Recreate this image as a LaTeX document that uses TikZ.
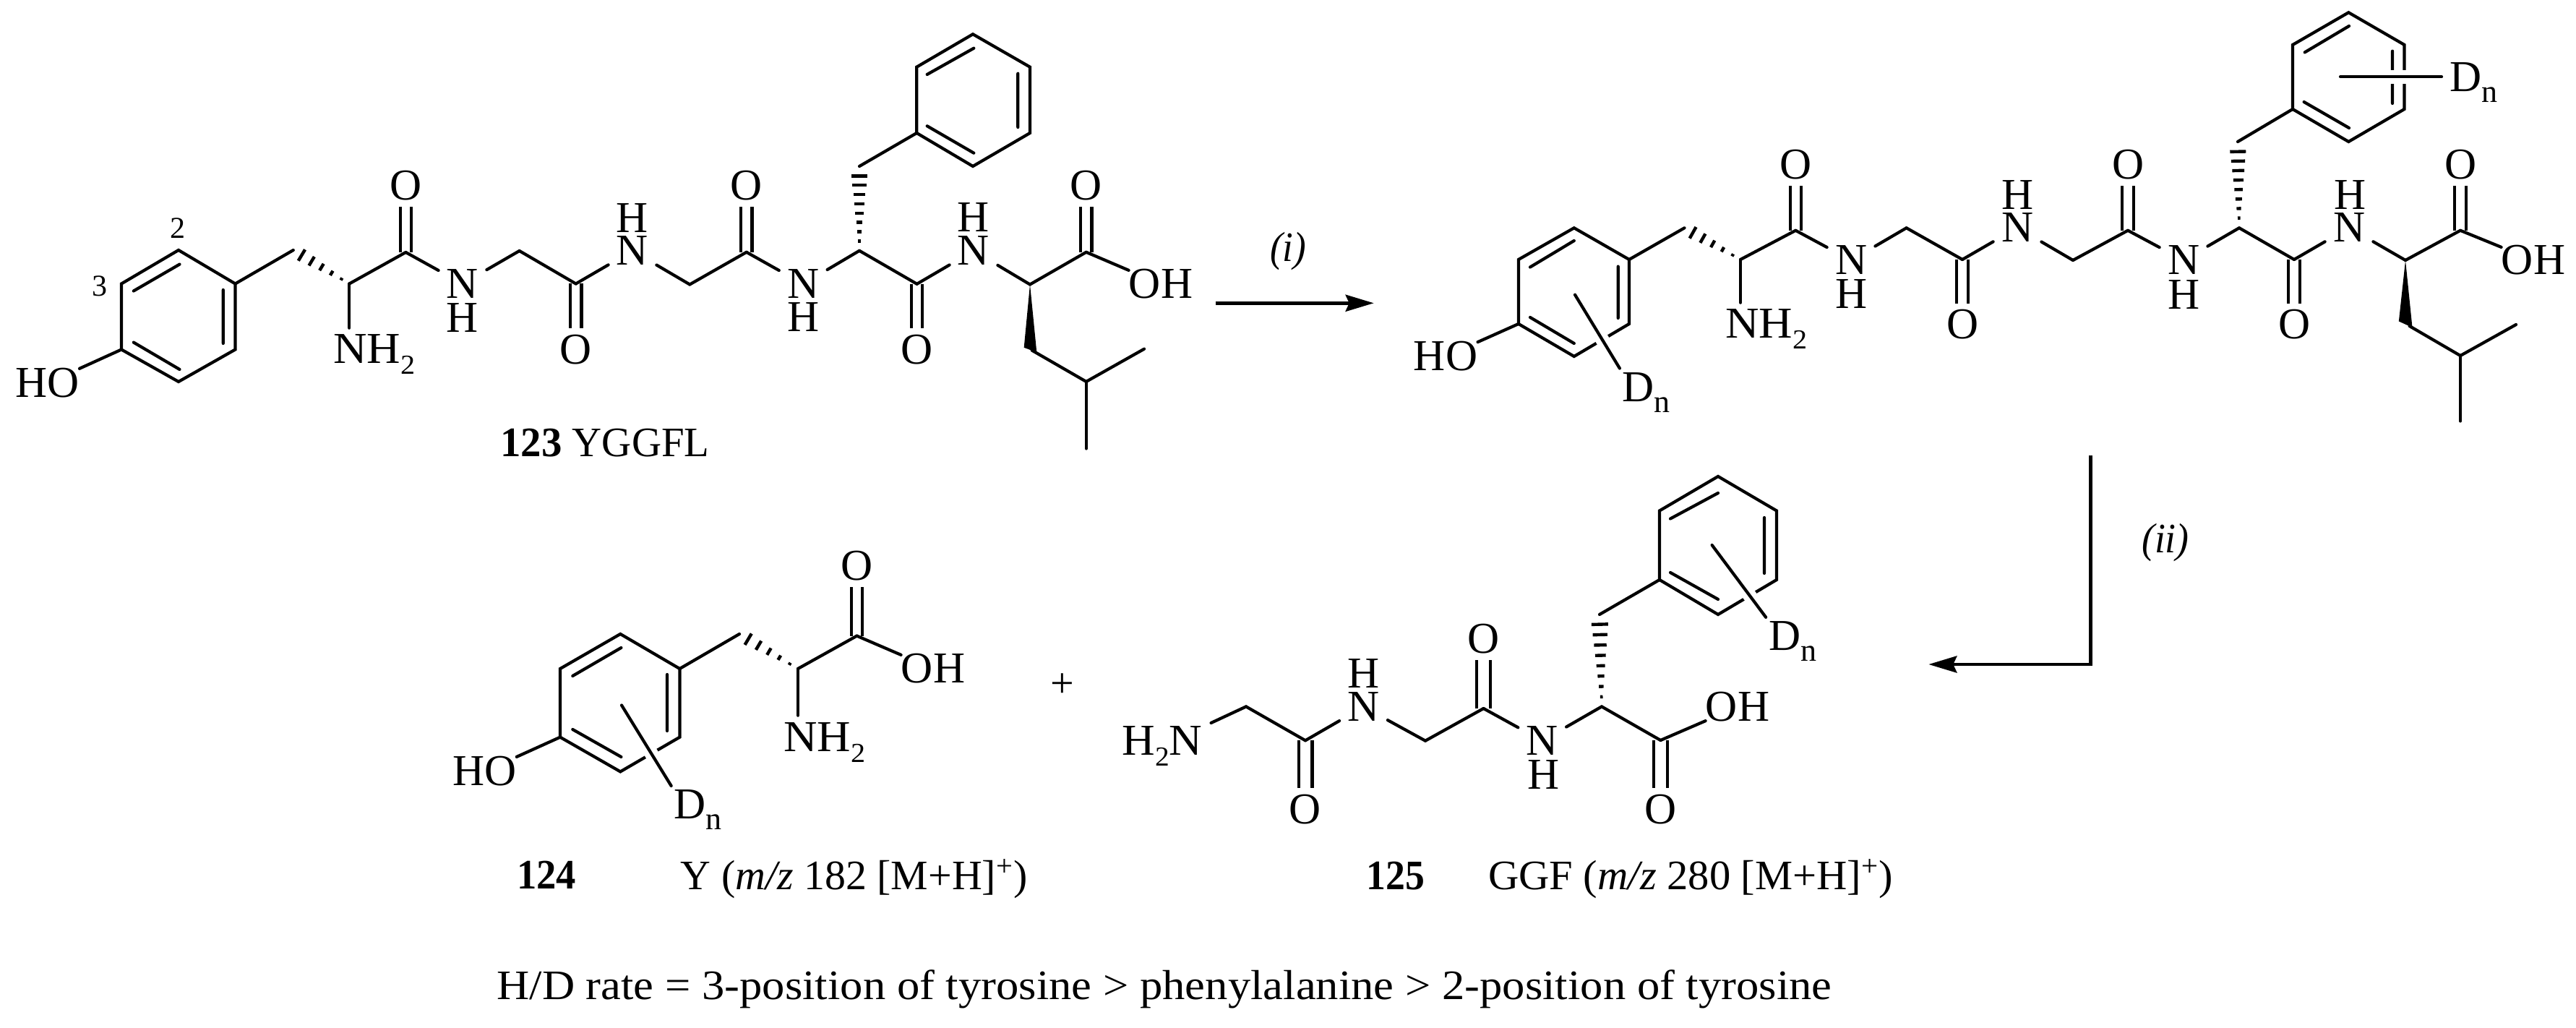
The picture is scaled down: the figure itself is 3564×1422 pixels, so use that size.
\documentclass[tikz,border=0pt]{standalone}
\usepackage{fontspec}
\usepackage{graphicx}
\setmainfont{Liberation Serif}
\usetikzlibrary{calc,arrows.meta}
\newcommand\fs[1]{\fontsize{#1}{#1}\selectfont}
\newcommand\subt[1]{\raisebox{-7.5pt}{\fs{19}#1}}
\newcommand\subn[1]{\raisebox{-7.5pt}{\fs{22}#1}}
\newcommand\atom[4]{\node[atom] (#1) at (#2,#3) {#4};}
\newcommand\natom[4]{\node[natom] (#1) at (#2,#3) {#4};}
\newcommand\hatom[4]{\node[hatom] (#1) at (#2,#3) {#4};}
\newcommand\fit[2]{\resizebox{#1pt}{\height}{#2}}
% ring: prefix, xL, xC, xR, yTop, yUp, yLow, yBot
\newcommand\benz[8]{%
  \coordinate (#1t) at (#3,#5);\coordinate (#1ur) at (#4,#6);\coordinate (#1lr) at (#4,#7);
  \coordinate (#1b) at (#3,#8);\coordinate (#1ll) at (#2,#7);\coordinate (#1ul) at (#2,#6);
  \draw[bond,line cap=butt,line join=miter] (#3,#5) -- (#4,#6) -- (#4,#7) -- (#3,#8) -- (#2,#7) -- (#2,#6) -- cycle;}
% hash bond: from, to, stripes, t0, t1, max half width (pt)
\newcommand\hashb[6]{%
  \foreach \k in {1,...,#3}{%
    \pgfmathsetmacro\hT{#4+(#5-#4)*(\k-1)/(#3-1)}%
    \pgfmathsetmacro\hW{0.9+(#6-0.9)*(\k-1)/(#3-1)}%
    \draw[hashst] ($(#1)!\hT!(#2)!\hW pt!90:(#2)$) -- ($(#1)!\hT!(#2)!\hW pt!-90:(#2)$);}}
\tikzset{
  bond/.style={line width=2.1pt,line cap=round,line join=miter,black},
  dbl/.style={bond,line cap=butt,double=white,double distance=5.6pt},
  dblw/.style={bond,line cap=butt,double=white,double distance=7.3pt},
  hashst/.style={line width=2.2pt,black},
  atom/.style={inner sep=0pt,minimum width=33pt,minimum height=29pt,font=\fs{30.5}},
  natom/.style={inner sep=0pt,minimum width=33pt,minimum height=21pt,font=\fs{30.5}},
  hatom/.style={inner sep=0pt,font=\fs{30.5}},
  lab/.style={inner sep=0pt,anchor=base west,font=\fs{30.5}},
  capt/.style={inner sep=0pt,anchor=base west,font=\fs{29}},
  over/.style={bond,preaction={draw=white,line width=9.5pt,line cap=butt}},
  rxn/.style={line width=2.4pt,black,-{Stealth[length=19.5pt,width=11.5pt,inset=2.5pt]}},
}
\begin{document}
\begin{tikzpicture}[x=0.5pt,y=-0.5pt]
\useasboundingbox (0,0) rectangle (3564,1422);
%% ---------- 123 ----------
\benz{ar}{168}{247}{325.5}{346}{392.5}{483.5}{528}
\draw[bond] (184.8,402.5) -- (248.5,365.6) (308.8,401) -- (308.8,475) (184.8,473.6) -- (248.5,511);
\benz{as}{1268.3}{1346}{1425}{47.3}{92.7}{184}{230}
\draw[bond] (1282.7,103) -- (1347.3,66.7) (1408.3,101.7) -- (1408.3,176) (1282.7,174.3) -- (1347.3,211.7);
\node[inner sep=0pt,font=\fs{21}] (alab2) at (245.7,315.7) {2};
\node[inner sep=0pt,font=\fs{21}] (alab3) at (137.8,395.5) {3};
\atom{aHO}{65.5}{530}{HO}
\node[lab] (aNH) at (461,503) {\fit{56.5}{NH\subt{2}}};
\atom{aO1}{561.4}{256.7}{O}\natom{aN1}{640}{392.5}{N}\hatom{aH1}{640}{440}{H}
\atom{aO2}{796.7}{483.5}{O}\natom{aN2}{875}{347}{N}\hatom{aH2}{875}{301.4}{H}
\atom{aO3}{1032.8}{257}{O}\natom{aN3}{1111.2}{392.8}{N}\hatom{aH3}{1111.2}{438.7}{H}
\atom{aO4}{1268.6}{483.8}{O}\natom{aN4}{1347}{347}{N}\hatom{aH4}{1347}{301}{H}
\atom{aO5}{1502.8}{257}{O}\atom{aOH}{1606}{392.8}{OH}
\coordinate (ac1) at (405.8,346);\coordinate (aca1) at (483.3,392.5);\coordinate (ac2) at (561.4,349);
\coordinate (ac3) at (718.6,347);\coordinate (ac4) at (796.7,392.5);\coordinate (ac5) at (954.3,393.5);
\coordinate (ac6) at (1032.8,348.8);\coordinate (aca2) at (1189,346.8);\coordinate (ac7) at (1189,230);
\coordinate (ac8) at (1268.6,392.8);\coordinate (aca3) at (1425,393.5);\coordinate (ac9) at (1502.8,348.8);
\coordinate (ac10) at (1427.7,484.6);\coordinate (ac11) at (1502.8,527.9);\coordinate (ac12) at (1583,482.7);\coordinate (ac13) at (1502.8,620.5);
\coordinate (aw1) at (1416.7,480.8);\coordinate (aw2) at (1434.3,487.3);
\draw[dbl] (ac2) -- (aO1);\draw[dbl] (ac4) -- (aO2);\draw[dbl] (ac6) -- (aO3);\draw[dbl] (ac8) -- (aO4);\draw[dbl] (ac9) -- (aO5);
\draw[bond] (arll) -- (aHO);
\draw[bond] (arur) -- (ac1);
\hashb{aca1}{ac1}{5}{0.14}{0.85}{4.5}
\draw[bond] (aca1) -- ([yshift=4.5pt]aca1 |- aNH.north);
\draw[bond] (aca1) -- (ac2);\draw[bond] (ac2) -- (aN1);\draw[bond] (aN1) -- (ac3);\draw[bond] (ac3) -- (ac4);\draw[bond] (ac4) -- (aN2);
\draw[bond] (aN2) -- (ac5);\draw[bond] (ac5) -- (ac6);\draw[bond] (ac6) -- (aN3);\draw[bond] (aN3) -- (aca2);
\hashb{aca2}{ac7}{8}{0.115}{0.885}{5.5}
\draw[bond] (ac7) -- (asll);
\draw[bond] (aca2) -- (ac8);\draw[bond] (ac8) -- (aN4);\draw[bond] (aN4) -- (aca3);\draw[bond] (aca3) -- (ac9);\draw[bond] (ac9) -- (aOH);
\fill[black] (aca3) -- (aw1) -- (aw2) -- cycle;
\draw[bond] (ac10) -- (ac11);\draw[bond] (ac11) -- (ac12);\draw[bond] (ac11) -- (ac13);
\node[capt] (acap) at (692,631) {\fit{144.5}{\textbf{123} YGGFL}};
%% ---------- deuterated peptide ----------
\benz{br}{2100.9}{2177.8}{2254}{315.3}{359}{448}{493}
\draw[bond] (2117,369.5) -- (2177.8,333) (2238.7,368.6) -- (2238.7,440) (2117,439) -- (2177.8,475);
\benz{bs}{3172}{3249.3}{3326.5}{17.3}{62}{151}{196}
\draw[bond] (3188.7,72.4) -- (3250,36) (3310,70.7) -- (3310,143) (3187.6,141) -- (3250,177);
\atom{bHO}{2000}{493}{HO}
\node[lab] (bNH) at (2386.8,468) {\fit{56.5}{NH\subt{2}}};
\node[lab] (bD1) at (2244,555) {D\subn{n}};
\node[lab] (bD2) at (3389,127) {D\subn{n}};
\atom{bO1}{2484.3}{227.7}{O}\natom{bN1}{2561}{360}{N}\hatom{bH1}{2561}{406.8}{H}
\atom{bO2}{2715}{449}{O}\natom{bN2}{2791}{315}{N}\hatom{bH2}{2791}{270}{H}
\atom{bO3}{2944}{227.7}{O}\natom{bN3}{3021}{360}{N}\hatom{bH3}{3021}{407.7}{H}
\atom{bO4}{3174}{449}{O}\natom{bN4}{3250}{315}{N}\hatom{bH4}{3251}{270}{H}
\atom{bO5}{3404}{227.7}{O}\atom{bOH}{3505}{360}{OH}
\coordinate (bc1) at (2330.5,315.3);\coordinate (bca1) at (2408,359);\coordinate (bc2) at (2484.3,318.8);
\coordinate (bc3) at (2637.6,315.3);\coordinate (bc4) at (2715,359);\coordinate (bc5) at (2868,360);
\coordinate (bc6) at (2944,318.8);\coordinate (bca2) at (3098,315.3);\coordinate (bc7) at (3096,196);
\coordinate (bc8) at (3174,359);\coordinate (bca3) at (3328,360);\coordinate (bc9) at (3404,318.8);
\coordinate (bc10) at (3333.6,451);\coordinate (bc11) at (3404,492);\coordinate (bc12) at (3481,449);\coordinate (bc13) at (3404,582.5);
\coordinate (bw1) at (3318.8,444.5);\coordinate (bw2) at (3337.5,453);
\coordinate (bd1) at (2179,407.7);\coordinate (bd2) at (3238,106.3);
\draw[dbl] (bc2) -- (bO1);\draw[dbl] (bc4) -- (bO2);\draw[dbl] (bc6) -- (bO3);\draw[dbl] (bc8) -- (bO4);\draw[dbl] (bc9) -- (bO5);
\draw[bond] (brll) -- (bHO);
\draw[bond] (brur) -- (bc1);
\hashb{bca1}{bc1}{5}{0.14}{0.85}{4.5}
\draw[bond] (bca1) -- ([yshift=4.5pt]bca1 |- bNH.north);
\draw[bond] (bca1) -- (bc2);\draw[bond] (bc2) -- (bN1);\draw[bond] (bN1) -- (bc3);\draw[bond] (bc3) -- (bc4);\draw[bond] (bc4) -- (bN2);
\draw[bond] (bN2) -- (bc5);\draw[bond] (bc5) -- (bc6);\draw[bond] (bc6) -- (bN3);\draw[bond] (bN3) -- (bca2);
\hashb{bca2}{bc7}{8}{0.115}{0.885}{5.5}
\draw[bond] (bc7) -- (bsll);
\draw[bond] (bca2) -- (bc8);\draw[bond] (bc8) -- (bN4);\draw[bond] (bN4) -- (bca3);\draw[bond] (bca3) -- (bc9);\draw[bond] (bc9) -- (bOH);
\fill[black] (bca3) -- (bw1) -- (bw2) -- cycle;
\draw[bond] (bc10) -- (bc11);\draw[bond] (bc11) -- (bc12);\draw[bond] (bc11) -- (bc13);
\draw[over,shorten >=3pt] (bd1) -- (bD1.north west);
\draw[over,shorten >=5.5pt] (bd2) -- (bd2 -| bD2.west);
%% ---------- 124 ----------
\benz{cr}{775}{858.3}{940.4}{877}{925}{1019.7}{1067.4}
\draw[bond] (792.3,935) -- (859.4,896) (923,933) -- (923,1011) (792.3,1009) -- (859.4,1047);
\atom{cHO}{670.3}{1067}{HO}
\node[lab] (cNH) at (1084,1039) {\fit{56.5}{NH\subt{2}}};
\node[lab] (cD) at (931.8,1132.5) {D\subn{n}};
\atom{cO}{1185.5}{782.5}{O}\atom{cOH}{1291}{925}{OH}
\coordinate (cc1) at (1023,877);\coordinate (cca) at (1104,925);\coordinate (cc2) at (1185.5,879.6);\coordinate (cd) at (860,975.5);
\draw[dbl] (cc2) -- (cO);
\draw[bond] (crll) -- (cHO);\draw[bond] (crur) -- (cc1);
\hashb{cca}{cc1}{5}{0.14}{0.85}{4.5}
\draw[bond] (cca) -- ([yshift=4.5pt]cca |- cNH.north);
\draw[bond] (cca) -- (cc2);\draw[bond] (cc2) -- (cOH);
\draw[over,shorten >=3pt] (cd) -- (cD.north west);
\node[inner sep=0pt,font=\fs{29}] (plus) at (1469.6,948) {+};
\node[capt] (ccap1) at (714.8,1229) {\fit{41}{\textbf{124}}};
\node[capt] (ccap2) at (941.5,1230) {\fit{239.75}{Y (\textit{m/z} 182 [M+H]\textsuperscript{+})}};
%% ---------- 125 ----------
\benz{dr}{2296}{2377}{2458}{659}{706.5}{802}{850}
\draw[bond] (2311,717.5) -- (2377,682) (2441,716) -- (2441,793) (2311,792) -- (2377,829);
\node[lab] (dH2N) at (1552,1044) {\fit{55.5}{H\subt{2}N}};
\node[lab] (dD) at (2446.7,899) {D\subn{n}};
\atom{dO1}{1806}{1119.4}{O}\natom{dN1}{1886.5}{977.8}{N}\hatom{dH1}{1886.5}{931.7}{H}
\atom{dO2}{2052.5}{883.6}{O}\natom{dN2}{2133.7}{1024.7}{N}\hatom{dH2}{2135}{1071.7}{H}
\atom{dO3}{2297.4}{1119.4}{O}\atom{dOH}{2404}{978}{OH}
\coordinate (dc0) at (1724,977.4);\coordinate (dc1) at (1806,1024.3);\coordinate (dc2) at (1972,1024.7);
\coordinate (dc3) at (2052.5,980);\coordinate (dca) at (2216,977.4);\coordinate (dc4) at (2213,850);
\coordinate (dc5) at (2297.4,1024);\coordinate (dd) at (2368.6,754);
\draw[dblw] (dc1) -- (dO1);\draw[dblw] (dc3) -- (dO2);\draw[dblw] (dc5) -- (dO3);
\draw[bond,shorten >=6.5pt] (dc0) -- (dH2N);
\draw[bond] (dc0) -- (dc1);\draw[bond] (dc1) -- (dN1);\draw[bond] (dN1) -- (dc2);\draw[bond] (dc2) -- (dc3);\draw[bond] (dc3) -- (dN2);\draw[bond] (dN2) -- (dca);
\hashb{dca}{dc4}{8}{0.106}{0.893}{5.75}
\draw[bond] (dc4) -- (drll);
\draw[bond] (dca) -- (dc5);\draw[bond] (dc5) -- (dOH);
\draw[over,shorten >=3pt] (dd) -- (dD.north west);
\node[capt] (dcap1) at (1890,1230) {\fit{40.3}{\textbf{125}}};
\node[capt] (dcap2) at (2058.7,1230) {\fit{280}{GGF (\textit{m/z} 280 [M+H]\textsuperscript{+})}};
%% ---------- bottom line ----------
\node[capt] (note) at (687,1382) {\fit{923.5}{H/D rate = 3-position of tyrosine > phenylalanine > 2-position of tyrosine}};
%% ---------- reaction arrows ----------
\coordinate (r1a) at (1681.7,419.3);\coordinate (r1b) at (1900.7,419.3);
\coordinate (r2a) at (2892.3,630);\coordinate (r2c) at (2892.3,919);\coordinate (r2b) at (2668.3,919);
\draw[rxn] (r1a) -- (r1b);
\draw[rxn,line join=miter] (r2a) -- (r2c) -- (r2b);
\node[capt] (ri) at (1756.7,361.7) {\fit{25}{\textit{(i)}}};
\node[capt] (rii) at (2962.7,764) {\fit{32.8}{\textit{(ii)}}};
\end{tikzpicture}
\end{document}
